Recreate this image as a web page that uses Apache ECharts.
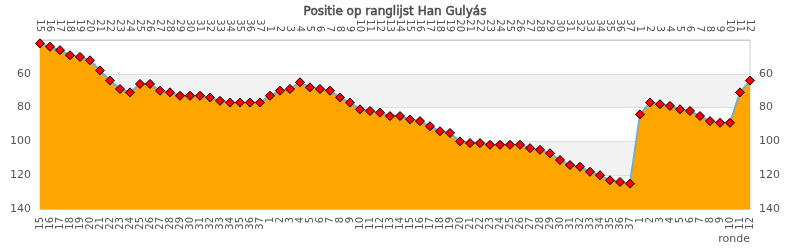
<!DOCTYPE html>
<html>
<head>
<meta charset="utf-8">
<script src="https://cdn.jsdelivr.net/npm/echarts@6/dist/echarts.min.js"></script>
<style>
html,body{margin:0;padding:0;background:#fff;}
#chart{width:790px;height:250px;}
</style>
</head>
<body>
<div id="chart"></div>
<script>
// Round labels (three seasons)
const seizoen1 = ['15','16','17','18','19','20','21','22','23','24','25','26','27','28','29','30','31','32','33','34','35','36','37'];
const seizoen2 = ['1','2','3','4','5','6','7','8','9','10','11','12','13','14','15','16','17','18','19','20','21','22','23','24','25','26','27','28','29','30','31','32','33','34','35','36','37'];
const seizoen3 = ['1','2','3','4','5','6','7','8','9','10','11','12'];
const rondes = seizoen1.concat(seizoen2, seizoen3);

// Ranking position per round
const positie1 = [42,44,46,49,50,52,58,64,69,71,66,66,70,71,73,73,73,74,76,77,77,77,77];
const positie2 = [73,70,69,65,68,69,70,74,77,81,82,83,85,85,87,88,91,94,95,100,101,101,102,102,102,102,104,105,107,111,114,115,118,120,123,124,125];
const positie3 = [84,77,78,79,81,82,85,88,89,89,71,64];
const positie = positie1.concat(positie2, positie3);

const yTicks = [40, 140, 20]; // min, max, interval

const chart = echarts.init(document.getElementById('chart'), null, {renderer:'canvas'});
const FONT = 'DejaVu Sans';
const labelColor = '#555';

const xCommon = {
  type: 'category',
  data: rondes,
  boundaryGap: false,
  axisTick: {show: false},
  axisLine: {show: true, lineStyle: {color: '#ccc'}},
  splitLine: {show: false},
  axisLabel: {interval: 0, rotate: 90, fontSize: 10, fontFamily: FONT, color: labelColor, margin: 8}
};
const yCommon = {
  type: 'value',
  min: yTicks[0], max: yTicks[1], interval: yTicks[2],
  inverse: true,
  axisTick: {show: false},
  axisLine: {show: false},
  axisLabel: {showMinLabel: false, fontSize: 11, fontFamily: FONT, color: labelColor, margin: 9}
};

chart.setOption({
  animation: false,
  backgroundColor: '#fff',
  title: {
    text: 'Positie op ranglijst Han Gulyás',
    left: 'center', top: 1,
    textStyle: {fontFamily: FONT, fontSize: 12, fontWeight: 'normal', color: '#4a4a4a', textBorderColor: '#4a4a4a', textBorderWidth: 0.5}
  },
  grid: {left: 40, right: 40, top: 40, bottom: 41, show: true, borderColor: '#ccc', borderWidth: 1, backgroundColor: 'transparent'},
  xAxis: [
    Object.assign({}, xCommon, {
      position: 'bottom',
      name: 'ronde',
      nameLocation: 'end',
      nameGap: 0,
      nameTextStyle: {fontFamily: FONT, fontSize: 11, color: labelColor, align: 'right', verticalAlign: 'top', padding: [25, 0, 0, 0]}
    }),
    Object.assign({}, xCommon, {position: 'top'})
  ],
  yAxis: [
    Object.assign({}, yCommon, {
      position: 'left',
      splitLine: {show: true, lineStyle: {color: '#ddd'}},
      splitArea: {show: true, areaStyle: {color: ['rgba(255,255,255,0)', '#f2f2f2']}}
    }),
    Object.assign({}, yCommon, {
      position: 'right',
      splitLine: {show: false},
      splitArea: {show: false}
    })
  ],
  series: [{
    type: 'line',
    xAxisIndex: 0,
    yAxisIndex: 0,
    data: positie,
    symbol: 'diamond',
    symbolSize: 9,
    showAllSymbol: true,
    lineStyle: {color: '#6aaee8', width: 2},
    itemStyle: {color: '#ff0000', borderColor: '#000', borderWidth: 1},
    areaStyle: {color: '#ffa500', opacity: 1, origin: 'end'},
    z: 3
  }]
});
</script>
</body>
</html>
